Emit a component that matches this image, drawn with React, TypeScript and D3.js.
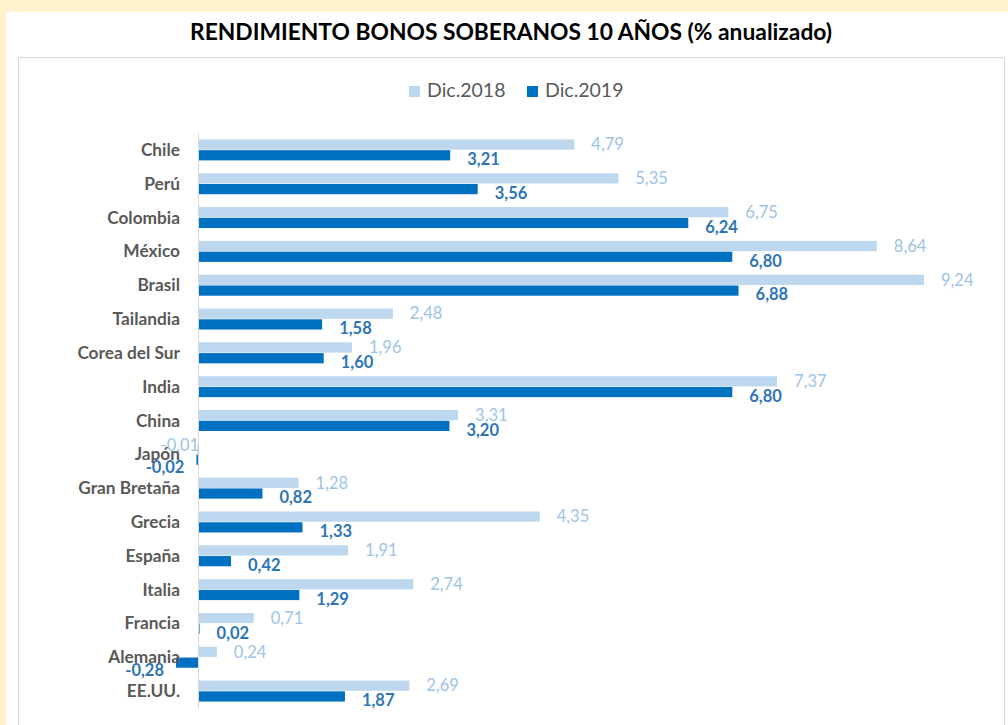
import React from "react";
import * as d3 from "d3";

const categories = ["Chile","Perú","Colombia","México","Brasil","Tailandia","Corea del Sur","India","China","Japón","Gran Bretaña","Grecia","España","Italia","Francia","Alemania","EE.UU."];
const dic2018 = [4.79,5.35,6.75,8.64,9.24,2.48,1.96,7.37,3.31,-0.01,1.28,4.35,1.91,2.74,0.71,0.24,2.69];
const dic2019 = [3.21,3.56,6.24,6.80,6.88,1.58,1.60,6.80,3.20,-0.02,0.82,1.33,0.42,1.29,0.02,-0.28,1.87];
const seriesNames = ["Dic.2018","Dic.2019"];
const colors = ["#BDD7EE","#0070C0"];
const labelColors = ["#9DC3E6","#2E75B6"];

const W = 1008, H = 725;
const FONT = "Lato, 'Open Sans', sans-serif";

export default function App() {
  const x = d3.scaleLinear().domain([0, 9.24]).range([198, 924]);
  const y = d3.scaleBand<string>().domain(categories).range([133, 708]).paddingInner(0.38).paddingOuter(0.19);
  const ys = d3.scaleBand<number>().domain([0, 1]).range([0, y.bandwidth()]).paddingInner(0.05);
  const fmt = (v: number) => v.toFixed(2).replace(".", ",");
  const series = [dic2018, dic2019];

  return (
    <svg width={W} height={H} style={{ position: "absolute", left: 0, top: 0, fontFamily: FONT }}>
      <rect x={0} y={0} width={W} height={H} fill="#FFF2CC" />
      <rect x={6} y={12} width={W - 6} height={H - 12} fill="#FFFFFF" />
      <rect x={18.5} y={57.5} width={986} height={H} fill="#FFFFFF" stroke="#D9D9D9" strokeWidth={1} />
      <text x={511} y={40} textAnchor="middle" fontSize={22.8} fontWeight="bold" fill="#000000">RENDIMIENTO BONOS SOBERANOS 10 AÑOS (% anualizado)</text>
      {/* legend */}
      <rect x={409} y={86} width={11} height={11} fill={colors[0]} />
      <text x={427} y={97} fontSize={19.5} fill="#595959">{seriesNames[0]}</text>
      <rect x={527} y={86} width={11} height={11} fill={colors[1]} />
      <text x={545} y={97} fontSize={19.5} fill="#595959">{seriesNames[1]}</text>
      {/* bars */}
      {categories.map((c, i) => (
        <g key={c}>
          {series.map((s, k) => {
            const v = s[i];
            const y0 = (y(c) as number) + (ys(k) as number);
            const bx = Math.min(x(0), x(v));
            const bw = Math.max(Math.abs(x(v) - x(0)), 1);
            const off = k === 1 ? (v < 0 ? 8 : 4) : (v < 0 ? -4 : 0);
            const cy = y0 + ys.bandwidth() / 2 + off;
            const lx = v >= 0 ? x(v) + 17 : x(v) + (k === 0 ? 2 : -12);
            return (
              <g key={k}>
                <rect x={bx} y={y0} width={bw} height={ys.bandwidth()} fill={colors[k]} />
                <text x={lx} y={cy} dy="0.35em" textAnchor={v >= 0 ? "start" : "end"} fontSize={16.5}
                  fontWeight={k === 1 ? "bold" : "normal"} fill={labelColors[k]}>{fmt(v)}</text>
              </g>
            );
          })}
          <text x={180} y={(y(c) as number) + y.bandwidth() / 2} dy="0.35em" textAnchor="end" fontSize={17.3} fontWeight="bold" fill="#595959">{c}</text>
        </g>
      ))}
      <line x1={198.5} x2={198.5} y1={133} y2={708} stroke="#D9D9D9" strokeWidth={1} />
    </svg>
  );
}
